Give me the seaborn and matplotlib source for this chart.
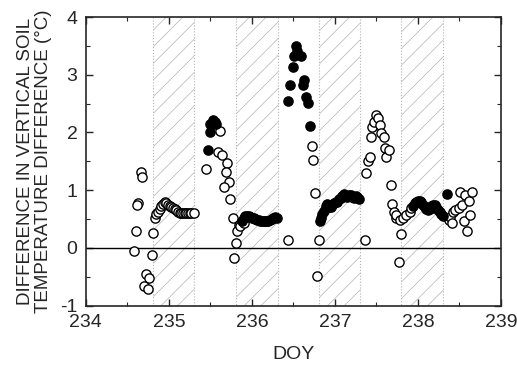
import numpy as np
import pandas as pd
import seaborn as sns
import matplotlib.pyplot as plt
from matplotlib.ticker import MultipleLocator

sns.set_style("ticks")
plt.rcParams['font.family'] = ['Liberation Sans', 'DejaVu Sans']
plt.rcParams['axes.unicode_minus'] = False

# open circles (DOY, value)
open_doy = [234.67, 234.68, 234.63, 234.62, 234.60, 234.58, 234.80, 234.81, 234.73, 234.76, 234.70, 234.75,
            234.83, 234.85, 234.87, 234.89, 234.91, 234.93, 234.95, 234.97, 234.99, 235.01, 235.03, 235.05,
            235.07, 235.09, 235.11, 235.13, 235.15, 235.17, 235.19, 235.21, 235.23, 235.25, 235.27, 235.30,
            235.61, 235.45, 235.59, 235.64, 235.70, 235.69, 235.73, 235.67, 235.74, 235.77, 235.84, 235.82,
            235.86, 235.90, 235.81, 235.79,
            236.43, 236.72, 236.74, 236.76, 236.81, 236.79,
            237.36, 237.37, 237.40, 237.42, 237.44, 237.45, 237.47, 237.49, 237.52, 237.54, 237.56, 237.59,
            237.60, 237.62, 237.65, 237.67, 237.69, 237.71, 237.73, 237.74, 237.78, 237.80, 237.77, 237.82,
            237.86, 237.90, 237.92,
            238.37, 238.39, 238.41, 238.42, 238.45, 238.49, 238.51, 238.53, 238.55, 238.57, 238.59, 238.61,
            238.63, 238.65]
open_val = [1.32, 1.23, 0.77, 0.75, 0.30, -0.05, -0.12, 0.25, -0.46, -0.53, -0.67, -0.72,
            0.51, 0.58, 0.63, 0.68, 0.72, 0.76, 0.79, 0.77, 0.74, 0.72, 0.71, 0.69,
            0.67, 0.65, 0.63, 0.61, 0.60, 0.60, 0.60, 0.60, 0.60, 0.60, 0.60, 0.60,
            2.02, 1.37, 1.67, 1.61, 1.47, 1.32, 1.14, 1.05, 0.85, 0.51, 0.40, 0.29,
            0.37, 0.43, 0.08, -0.17,
            0.14, 1.77, 1.53, 0.95, 0.14, -0.49,
            0.14, 1.29, 1.50, 1.57, 1.93, 2.10, 2.19, 2.31, 2.25, 2.13, 1.99, 1.93,
            1.73, 1.57, 1.69, 1.09, 0.76, 0.63, 0.51, 0.57, 0.49, 0.24, -0.25, 0.51,
            0.57, 0.63, 0.69,
            0.49, 0.54, 0.43, 0.62, 0.66, 0.69, 0.96, 0.75, 0.46, 0.92, 0.30, 0.81,
            0.57, 0.96]

# filled circles (DOY, value)
filled_doy = [235.47, 235.49, 235.50, 235.53, 235.55, 235.57,
              235.88, 235.90, 235.92, 235.94, 235.96, 235.98, 236.00, 236.02, 236.04, 236.06, 236.08,
              236.10, 236.12, 236.14, 236.16, 236.18, 236.20, 236.22, 236.24, 236.26, 236.28, 236.30,
              236.53, 236.54, 236.51, 236.59, 236.49, 236.63, 236.61, 236.46, 236.44, 236.65, 236.68, 236.70,
              236.82, 236.83, 236.85, 236.87, 236.89, 236.91, 236.93, 236.95, 236.97, 236.99, 237.01,
              237.03, 237.05, 237.07, 237.09, 237.11, 237.13, 237.15, 237.17, 237.19, 237.21, 237.23,
              237.25, 237.27, 237.29,
              237.94, 237.96, 237.98, 238.00, 238.02, 238.04, 238.06, 238.08, 238.10, 238.12, 238.14,
              238.16, 238.18, 238.20, 238.22, 238.24, 238.26, 238.28, 238.30, 238.35]
filled_val = [1.70, 2.00, 2.15, 2.22, 2.18, 2.15,
              0.46, 0.52, 0.55, 0.56, 0.55, 0.53, 0.52, 0.51, 0.50, 0.49, 0.48,
              0.47, 0.47, 0.46, 0.46, 0.46, 0.47, 0.48, 0.50, 0.52, 0.53, 0.52,
              3.50, 3.42, 3.32, 3.32, 3.13, 2.91, 2.83, 2.83, 2.54, 2.62, 2.51, 2.12,
              0.47, 0.52, 0.58, 0.64, 0.72, 0.76, 0.70, 0.71, 0.74, 0.77, 0.79,
              0.80, 0.84, 0.87, 0.90, 0.93, 0.90, 0.88, 0.92, 0.92, 0.88, 0.87,
              0.90, 0.88, 0.85,
              0.73, 0.77, 0.80, 0.82, 0.81, 0.79, 0.75, 0.70, 0.67, 0.66, 0.68,
              0.73, 0.75, 0.74, 0.71, 0.66, 0.62, 0.58, 0.55, 0.94]

# night periods (shaded)
band_start = [234.81, 235.81, 236.81, 237.80]
band_end = [235.30, 236.31, 237.30, 238.30]

open_df = pd.DataFrame({'DOY': open_doy, 'val': open_val})
filled_df = pd.DataFrame({'DOY': filled_doy, 'val': filled_val})

fig = plt.figure(figsize=(5.17, 3.65), dpi=100)
ax = fig.add_axes([0.166, 0.163, 0.803, 0.79])

plt.rcParams['hatch.linewidth'] = 0.5
for s, e in zip(band_start, band_end):
    ax.axvspan(s, e, facecolor='none', edgecolor='0.7', hatch='//', linewidth=0.8, linestyle=':', zorder=0)

ax.axhline(0, color='black', linewidth=1.0, zorder=1)

sns.scatterplot(data=open_df, x='DOY', y='val', ax=ax, marker='o', s=44,
                facecolor='white', edgecolor='black', linewidth=1.0, zorder=3)
sns.scatterplot(data=filled_df, x='DOY', y='val', ax=ax, marker='o', s=44,
                facecolor='black', edgecolor='black', linewidth=1.0, zorder=4)

ax.set_xlim(234, 239)
ax.set_ylim(-1, 4)
ax.xaxis.set_major_locator(MultipleLocator(1))
ax.xaxis.set_minor_locator(MultipleLocator(0.5))
ax.yaxis.set_major_locator(MultipleLocator(1))
ax.yaxis.set_minor_locator(MultipleLocator(0.5))
ax.tick_params(which='both', direction='in', top=True, right=True, labelsize=14, pad=6)
ax.tick_params(which='major', length=5, width=1)
ax.tick_params(which='minor', length=3, width=0.8)
for sp in ax.spines.values():
    sp.set_linewidth(1.2)

ax.set_xlabel('DOY', fontsize=14, labelpad=11)
ax.set_ylabel('DIFFERENCE IN VERTICAL SOIL\nTEMPERATURE DIFFERENCE (°C)', fontsize=13.5,
              linespacing=1.05, labelpad=6)

fig.savefig('out.png', dpi=100)
